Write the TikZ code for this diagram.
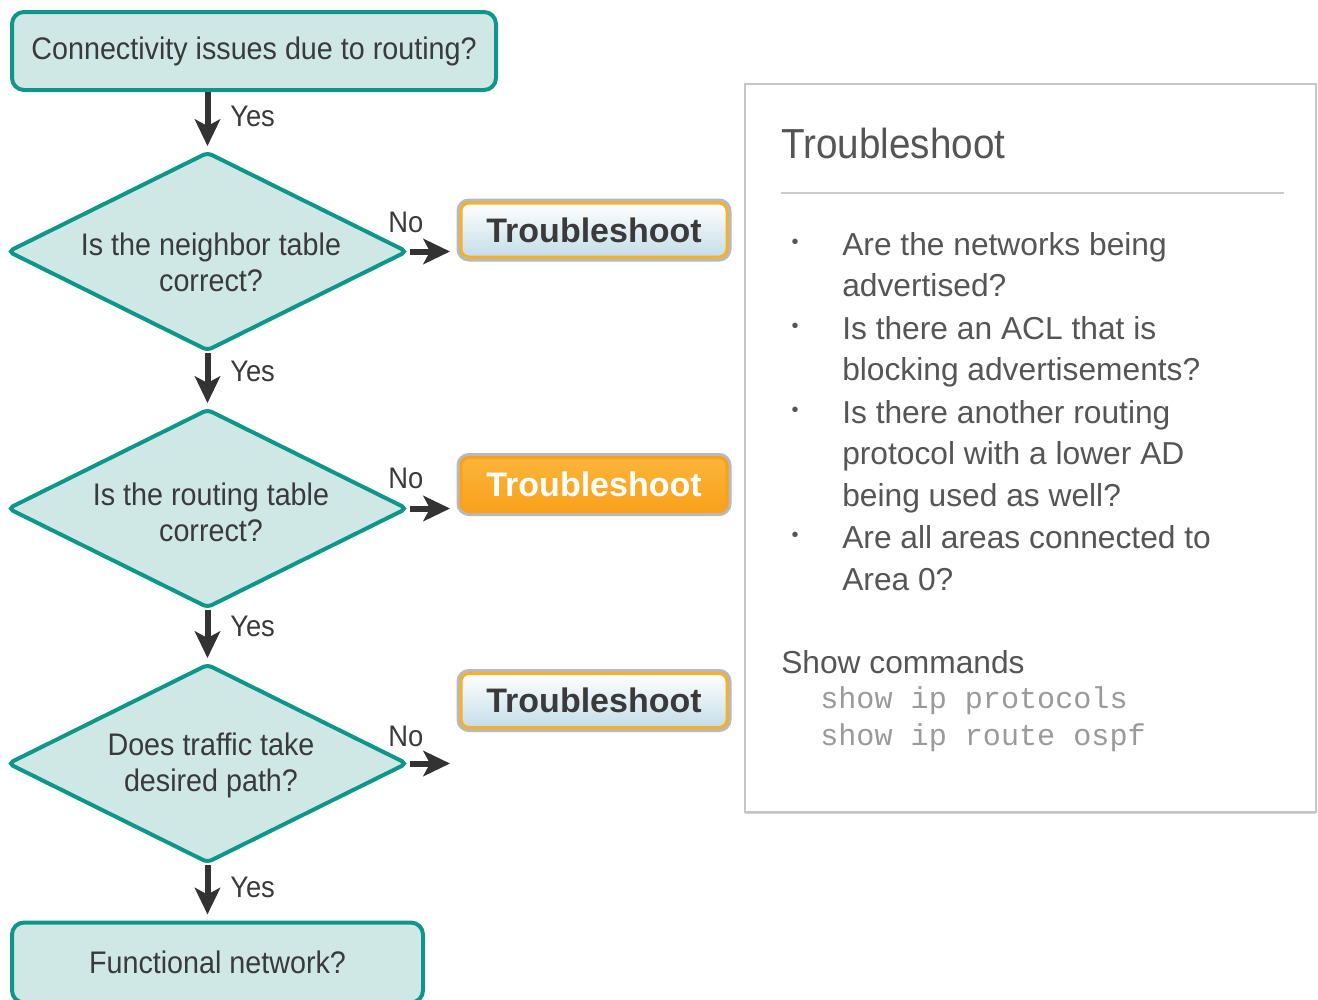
\documentclass[tikz,border=0pt]{standalone}
\usepackage{fontspec}
\setmainfont{Liberation Sans}
\setmonofont{Liberation Mono}
\newfontfamily\flowfont[FakeStretch=0.92]{Liberation Sans}
\usetikzlibrary{shapes.geometric,arrows.meta,shadows}
\definecolor{tealfill}{HTML}{CFE8E6}
\definecolor{tealline}{HTML}{0E968B}
\definecolor{txtdark}{HTML}{3A3A3A}
\definecolor{arrowc}{HTML}{333333}
\definecolor{orangebox}{HTML}{F9A11B}
\definecolor{orangetop}{HTML}{FBB53A}
\definecolor{yellowline}{HTML}{F6B02A}
\definecolor{bluebot}{HTML}{C4DDE8}
\definecolor{paneltxt}{HTML}{555555}
\definecolor{monogray}{HTML}{9A9A9A}
\definecolor{rulegray}{HTML}{CCCCCC}
\newcommand\pxu{0.75pt}
\begin{document}
\begin{tikzpicture}[x=0.75pt,y=-0.75pt,
  flowbox/.style={draw=tealline, fill=tealfill, line width=4*\pxu, rounded corners=12*\pxu,
    text=txtdark, font=\flowfont\fontsize{23.4}{27}\selectfont, inner sep=0pt},
  decision/.style={diamond, draw=tealline, fill=tealfill, line width=4*\pxu, rounded corners=5*\pxu,
    minimum width=400*\pxu, minimum height=199*\pxu, inner sep=0pt},
  dtext/.style={text=txtdark, font=\flowfont\fontsize{23.4}{27}\selectfont, align=center, inner sep=0pt},
  flowarrow/.style={draw=arrowc, line width=6*\pxu, -{Stealth[length=20pt,width=19pt,inset=5pt]}},
  lbl/.style={text=txtdark, font=\flowfont\fontsize{22.3}{24}\selectfont, inner sep=0pt},
  tbox/.style={rounded corners=8*\pxu, minimum width=266*\pxu, minimum height=54*\pxu,
    line width=3*\pxu, inner sep=0pt, font=\bfseries\fontsize{25.5}{28}\selectfont,
    preaction={draw=gray!55, line width=9*\pxu}},
  tplain/.style={tbox, draw=yellowline, top color=white, bottom color=bluebot, text=txtdark},
  torange/.style={tbox, draw=orangebox, top color=orangetop, bottom color=orangebox, text=white},
  ptext/.style={anchor=base west, inner sep=0pt, text=paneltxt, font=\fontsize{23.8}{31}\selectfont},
  bul/.style={inner sep=0pt, text=paneltxt, font=\fontsize{15}{15}\selectfont},
  mono/.style={anchor=base west, inner sep=0pt, text=monogray, font=\ttfamily\fontsize{22.6}{27}\selectfont}
]
\useasboundingbox (0,0) rectangle (1318,1000);
\begin{scope}
\clip (0,0) rectangle (1318,1000);

% flow column
\node[flowbox, minimum width=484*\pxu, minimum height=78*\pxu] (start) at (254,51) {Connectivity issues due to routing?};
\node[decision] (d1) at (207.5,251.5) {};
\node[dtext] (d1t) at (211,262) {Is the neighbor table\\correct?};
\node[decision] (d2) at (207.5,508.5) {};
\node[dtext] (d2t) at (211,512) {Is the routing table\\correct?};
\node[decision] (d3) at (207.5,763.5) {};
\node[dtext] (d3t) at (211,765) {Does traffic take\\desired path?};
\node[flowbox, minimum width=411*\pxu, minimum height=80*\pxu] (func) at (217.5,962.5) {Functional network?};

\draw[flowarrow, shorten >=4*\pxu] (d1.north |- start.south) -- (d1.north);
\draw[flowarrow, shorten >=4*\pxu] (d1.south) -- (d2.north);
\draw[flowarrow, shorten >=4*\pxu] (d2.south) -- (d3.north);
\draw[flowarrow, shorten >=6*\pxu] (d3.south) -- (d3.south |- func.north);

\node[lbl, anchor=west] (y1) at (230,116) {Yes};
\node[lbl, anchor=west] (y2) at (230,371) {Yes};
\node[lbl, anchor=west] (y3) at (230,626) {Yes};
\node[lbl, anchor=west] (y4) at (230,887) {Yes};

% no branches
\coordinate (n1) at (450,251.5);
\coordinate (n2) at (450,508.5);
\coordinate (n3) at (450,763.5);
\draw[flowarrow] (d1.east) -- (n1);
\draw[flowarrow] (d2.east) -- (n2);
\draw[flowarrow] (d3.east) -- (n3);
\node[lbl, anchor=west] (no1) at (388,222) {No};
\node[lbl, anchor=west] (no2) at (388,478) {No};
\node[lbl, anchor=west] (no3) at (388,736) {No};

\node[tplain] (t1) at (594,230) {Troubleshoot};
\node[torange] (t2) at (594,484.5) {Troubleshoot};
\node[tplain] (t3) at (594,700.5) {Troubleshoot};

% panel
\node[draw=gray!45, line width=1.5*\pxu, fill=white, minimum width=571*\pxu, minimum height=728*\pxu,
  drop shadow={shadow xshift=0pt, shadow yshift=-1.5pt, opacity=0.35}] (panel) at (1030.5,448) {};
\node[anchor=base west, inner sep=0pt, text=paneltxt, font=\flowfont\fontsize{31.5}{34}\selectfont] (ptitle) at (781,158) {Troubleshoot};
\coordinate (r1) at (781,193);
\coordinate (r2) at (1284,193);
\draw[rulegray, line width=1.5*\pxu] (r1) -- (r2);

\node[bul] (b1) at (795,244) {\textbullet};
\node[bul] (b2) at (795,328) {\textbullet};
\node[bul] (b3) at (795,412) {\textbullet};
\node[bul] (b4) at (795,537) {\textbullet};

\node[ptext] (l1) at (842,255) {Are the networks being};
\node[ptext] (l2) at (842,296) {advertised?};
\node[ptext] (l3) at (842,339) {Is there an ACL that is};
\node[ptext] (l4) at (842,380) {blocking advertisements?};
\node[ptext] (l5) at (842,423) {Is there another routing};
\node[ptext] (l6) at (842,464) {protocol with a lower AD};
\node[ptext] (l7) at (842,506) {being used as well?};
\node[ptext] (l8) at (842,548) {Are all areas connected to};
\node[ptext] (l9) at (842,590) {Area 0?};

\node[ptext] (sc) at (781,673) {Show commands};
\node[mono] (m1) at (820,708) {show ip protocols};
\node[mono] (m2) at (820,745) {show ip route ospf};
\end{scope}
\end{tikzpicture}
\end{document}
